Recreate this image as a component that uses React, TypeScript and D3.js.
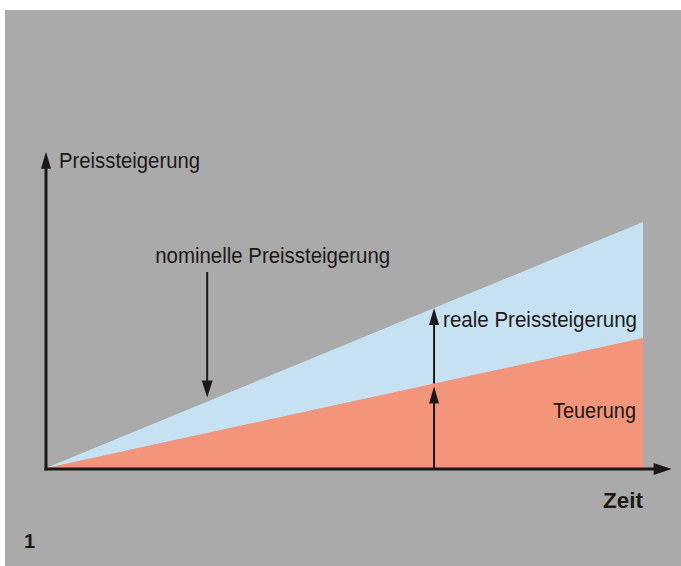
import { useEffect, useRef } from "react";
import * as d3 from "d3";

// time axis (arbitrary units) and the two growth lines
const timePoints = [0, 10];
const nominalValues = [0, 10];
const teuerungValues = [0, 5.28];

const axisTimeEnd = 10.48;
const axisValueEnd = 12.86;
const realArrowTime = 6.5;
const nominalArrowTime = 2.7;

const labels = {
	yAxis: "Preissteigerung",
	xAxis: "Zeit",
	nominal: "nominelle Preissteigerung",
	real: "reale Preissteigerung",
	teuerung: "Teuerung",
	figure: "1"
};

const palette = {
	background: "#aaaaaa",
	nominal: "#c6e2f2",
	teuerung: "#f3957b",
	ink: "#1c1818"
};

const W = 681;
const H = 566;

export default function App() {
	const svgRef = useRef<SVGSVGElement>(null);

	useEffect(() => {
		document.body.style.margin = "0";
		if (!svgRef.current) return;
		const svg = d3.select(svgRef.current);
		svg.selectAll("*").remove();

		svg.append("rect").attr("x", 5).attr("y", 10).attr("width", W - 5).attr("height", H - 10).attr("fill", palette.background);

		const x = d3.scaleLinear().domain([0, 10]).range([46, 643]);
		const y = d3.scaleLinear().domain([0, 10]).range([468, 222]);

		const nominalAt = d3.scaleLinear().domain(timePoints).range(nominalValues);
		const teuerAt = d3.scaleLinear().domain(timePoints).range(teuerungValues);

		const rows = timePoints.map((t, i) => ({ t, nominal: nominalValues[i], teuer: teuerungValues[i] }));

		const area = d3
			.area<{ t: number; nominal: number; teuer: number }>()
			.x((d) => x(d.t))
			.y0(y(0));

		svg.append("path").datum(rows).attr("fill", palette.nominal).attr("d", area.y1((d) => y(d.nominal)));
		svg.append("path").datum(rows).attr("fill", palette.teuerung).attr("d", area.y1((d) => y(d.teuer)));

		const arrow = (x1: number, y1: number, x2: number, y2: number, width: number, headLen: number, headW: number) => {
			const ang = Math.atan2(y2 - y1, x2 - x1);
			const bx = x2 - Math.cos(ang) * headLen;
			const by = y2 - Math.sin(ang) * headLen;
			svg
				.append("line")
				.attr("x1", x1)
				.attr("y1", y1)
				.attr("x2", bx + Math.cos(ang) * 2)
				.attr("y2", by + Math.sin(ang) * 2)
				.attr("stroke", palette.ink)
				.attr("stroke-width", width);
			const px = -Math.sin(ang) * (headW / 2);
			const py = Math.cos(ang) * (headW / 2);
			svg
				.append("path")
				.attr("d", `M${x2},${y2}L${bx + px},${by + py}L${bx - px},${by - py}Z`)
				.attr("fill", palette.ink);
		};

		// axes
		const axisY = y(0) + 1;
		arrow(x(0) - 1.5, axisY, x(axisTimeEnd), axisY, 3, 18, 12);
		arrow(x(0), axisY + 1.5, x(0), y(axisValueEnd), 3, 17, 10);

		// real / teuerung arrows
		const rx = x(realArrowTime);
		arrow(rx, y(0), rx, y(teuerAt(realArrowTime)) + 3, 2, 17, 10);
		arrow(rx, y(teuerAt(realArrowTime)), rx, y(nominalAt(realArrowTime)), 2, 17, 10);

		// nominal arrow
		const nx = x(nominalArrowTime);
		arrow(nx, 272, nx, y(nominalAt(nominalArrowTime)) - 4, 2, 17, 11);

		const text = (
			s: string,
			tx: number,
			ty: number,
			anchor: string,
			len: number | null,
			size = 22,
			weight = 400
		) => {
			const t = svg
				.append("text")
				.attr("x", tx)
				.attr("y", ty)
				.attr("text-anchor", anchor)
				.attr("font-family", "'Liberation Sans', Arial, sans-serif")
				.attr("font-size", size)
				.attr("font-weight", weight)
				.attr("fill", palette.ink)
				.text(s);
			if (len) t.attr("textLength", len).attr("lengthAdjust", "spacingAndGlyphs");
			return t;
		};

		text(labels.yAxis, x(0) + 13, 168, "start", 141);
		text(labels.nominal, nx - 52, 263, "start", 235);
		text(labels.real, rx + 9, 327, "start", 194);
		text(labels.teuerung, x(10) - 90, 418, "start", 83);
		text(labels.xAxis, x(10) - 40, 508, "start", 40, 22, 700);
		text(labels.figure, 24, 548, "start", null, 20, 700);
	}, []);

	return (
		<svg ref={svgRef} width={W} height={H} style={{ display: "block", background: "#ffffff" }} />
	);
}
